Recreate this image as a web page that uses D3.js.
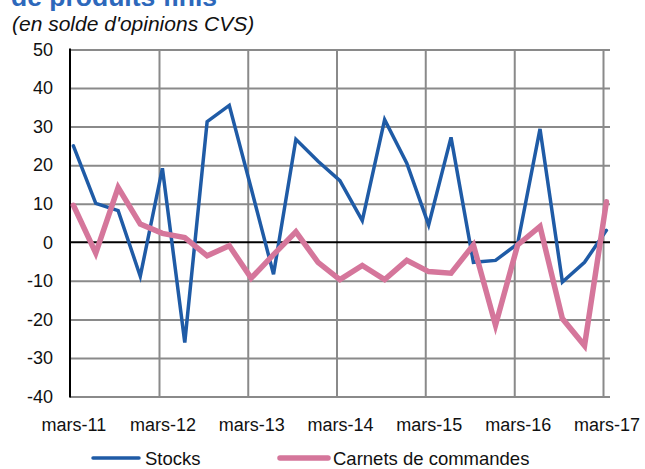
<!DOCTYPE html>
<html>
<head>
<meta charset="utf-8">
<script src="https://cdn.jsdelivr.net/npm/d3@7"></script>
<style>
  html, body { margin: 0; padding: 0; background: #fff; }
  svg { display: block; font-family: "Liberation Sans", Arial, sans-serif; }
</style>
</head>
<body>
<svg id="chart" width="645" height="469"></svg>
<script>
// quarterly observations, mars-11 .. mars-17
const quarters = [
  '2011-03', '2011-06', '2011-09', '2011-12',
  '2012-03', '2012-06', '2012-09', '2012-12',
  '2013-03', '2013-06', '2013-09', '2013-12',
  '2014-03', '2014-06', '2014-09', '2014-12',
  '2015-03', '2015-06', '2015-09', '2015-12',
  '2016-03', '2016-06', '2016-09', '2016-12',
  '2017-03'
];
const stocks = [
  25, 10.1, 8.2, -8.8,
  19.2, -26, 31.3, 35.5,
  14, -8.3, 26.7, 21,
  16, 5.6, 31.8, 20.5,
  4.5, 27.2, -5.2, -4.7,
  -0.4, 29.4, -10.3, -5.2,
  3.1
];
const carnets = [
  9.6, -2.8, 14.2, 4.7,
  2.3, 1.2, -3.5, -0.9,
  -9.3, -3.2, 2.7, -5.2,
  -9.7, -6, -9.7, -4.7,
  -7.6, -8, -0.7, -21.5,
  -0.7, 4.1, -19.8, -26.8,
  10.5
];
const yTicks = [50, 40, 30, 20, 10, 0, -10, -20, -30, -40];
const xTickYears = [2011, 2012, 2013, 2014, 2015, 2016, 2017];
const xTickLabels = ['mars-11', 'mars-12', 'mars-13', 'mars-14', 'mars-15', 'mars-16', 'mars-17'];

const series = [
  { name: 'Stocks', values: stocks, color: '#1f5ba6', width: 3.5 },
  { name: 'Carnets de commandes', values: carnets, color: '#d5769b', width: 5.5 }
];

const parseMonth = d3.timeParse('%Y-%m');
// points sit mid-month
const pointDate = (q) => d3.timeDay.offset(parseMonth(q), 14);

const marginLeft = 70;
const plotRight = 610;

const svg = d3.select('#chart');

const x = d3.scaleTime()
  .domain([new Date(2011, 2, 1), new Date(2017, 2, 1)])
  .range([marginLeft, 603]);
const y = d3.scaleLinear()
  .domain([-40, 50])
  .range([396.5, 49.5]);

// title (cut off at the top, as in the source) and subtitle
svg.append('text')
  .attr('x', 11).attr('y', 6)
  .attr('fill', '#2d68bb')
  .attr('font-weight', 'bold')
  .attr('font-size', 26.5)
  .text('de produits finis');
svg.append('text')
  .attr('x', 12).attr('y', 31)
  .attr('fill', '#111')
  .attr('font-style', 'italic')
  .attr('font-size', 21)
  .text("(en solde d'opinions CVS)");

// horizontal gridlines
const yGrid = svg.append('g')
  .attr('transform', `translate(${marginLeft},0)`)
  .call(d3.axisLeft(y)
    .tickValues(yTicks.filter((d) => d !== 0))
    .tickSize(-(plotRight - marginLeft))
    .tickFormat(''));
yGrid.select('.domain').remove();
yGrid.selectAll('line').attr('stroke', '#8a8a8a').attr('stroke-width', 2);

// vertical gridlines at each March
const xGrid = svg.append('g')
  .attr('transform', `translate(0,${y(-40)})`)
  .call(d3.axisBottom(x)
    .tickValues(xTickYears.slice(1).map((yr) => new Date(yr, 2, 1)))
    .tickSize(-(y(-40) - y(50)))
    .tickFormat(''));
xGrid.select('.domain').remove();
xGrid.selectAll('line').attr('stroke', '#8a8a8a').attr('stroke-width', 2);

// zero line and left axis
svg.append('line')
  .attr('x1', marginLeft).attr('x2', plotRight)
  .attr('y1', y(0)).attr('y2', y(0))
  .attr('stroke', '#000').attr('stroke-width', 2);
svg.append('line')
  .attr('x1', marginLeft).attr('x2', marginLeft)
  .attr('y1', y(50) - 1).attr('y2', y(-40) + 1)
  .attr('stroke', '#000').attr('stroke-width', 2);

// y labels
const yAxis = svg.append('g')
  .attr('transform', `translate(${marginLeft},0)`)
  .call(d3.axisLeft(y).tickValues(yTicks).tickSize(0).tickPadding(17)
    .tickFormat((d) => String(d)));
yAxis.select('.domain').remove();
yAxis.selectAll('text')
  .attr('font-family', '"Liberation Sans", Arial, sans-serif')
  .attr('font-size', 18)
  .attr('fill', '#111');

// x labels
const xLabelOf = new Map(xTickYears.map((yr, i) => [yr, xTickLabels[i]]));
const xAxis = svg.append('g')
  .attr('transform', `translate(0,${y(-40)})`)
  .call(d3.axisBottom(x)
    .tickValues(xTickYears.map((yr) => new Date(yr, 2, 15)))
    .tickSize(0).tickPadding(22)
    .tickFormat((d) => xLabelOf.get(d.getFullYear())));
xAxis.select('.domain').remove();
xAxis.selectAll('text')
  .attr('font-family', '"Liberation Sans", Arial, sans-serif')
  .attr('font-size', 18)
  .attr('fill', '#111');

// lines
const line = d3.line()
  .x((d, i) => x(pointDate(quarters[i])))
  .y((d) => y(d));

svg.selectAll('path.series')
  .data(series)
  .join('path')
  .attr('class', 'series')
  .attr('d', (s) => line(s.values))
  .attr('fill', 'none')
  .attr('stroke', (s) => s.color)
  .attr('stroke-width', (s) => s.width)
  .attr('stroke-linejoin', 'miter')
  .attr('stroke-linecap', 'round');

// legend
const legendX = [93, 280];
const legend = svg.append('g').attr('transform', 'translate(0,458)');
const items = legend.selectAll('g')
  .data(series)
  .join('g')
  .attr('transform', (s, i) => `translate(${legendX[i]},0)`);
items.append('line')
  .attr('x1', 0).attr('x2', (s, i) => (i === 0 ? 46 : 48))
  .attr('stroke', (s) => s.color)
  .attr('stroke-width', (s) => s.width)
  .attr('stroke-linecap', 'round');
items.append('text')
  .attr('x', (s, i) => (i === 0 ? 52 : 53))
  .attr('y', 7)
  .attr('font-size', 18.5)
  .attr('fill', '#111')
  .text((s) => s.name);
</script>
</body>
</html>
